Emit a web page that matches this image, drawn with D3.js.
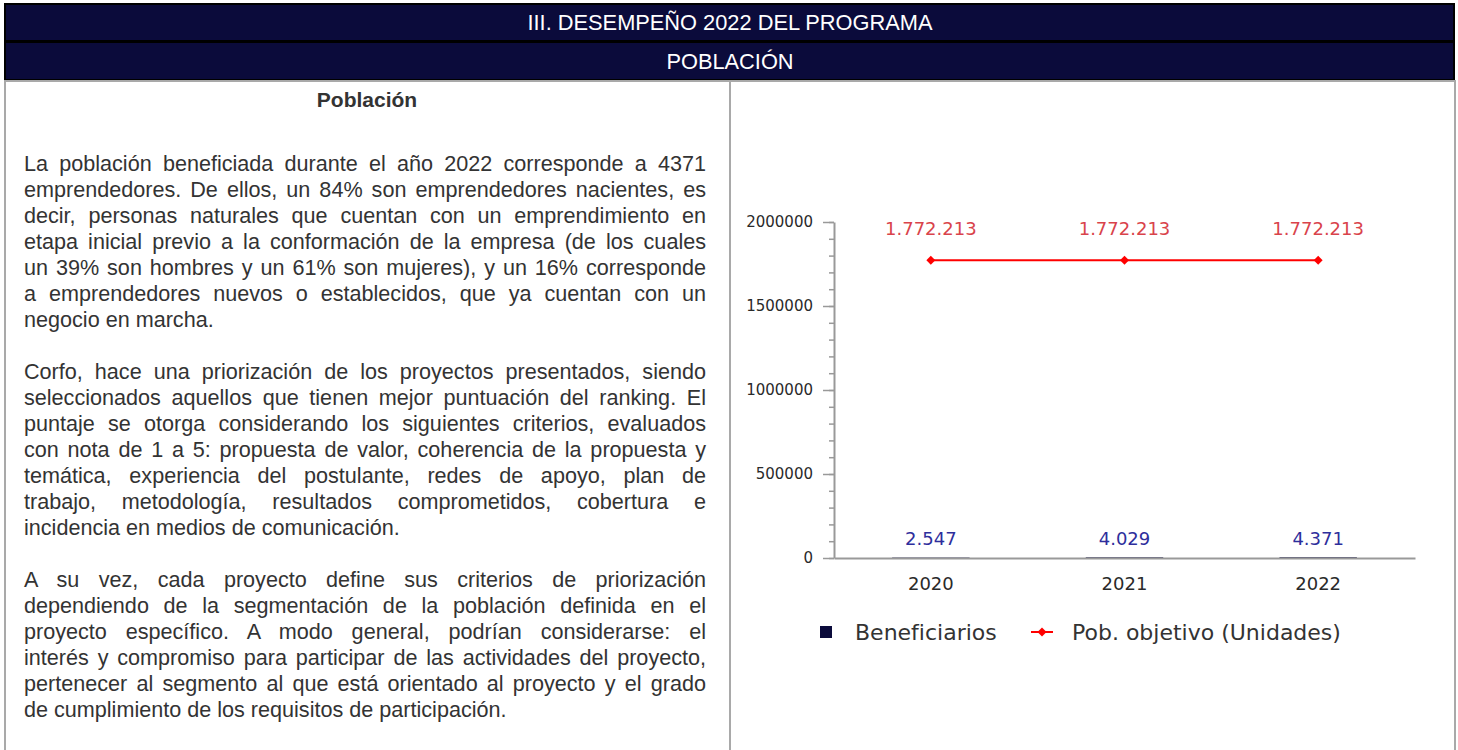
<!DOCTYPE html>
<html lang="es">
<head>
<meta charset="UTF-8">
<title>Población</title>
<script src="https://cdn.jsdelivr.net/npm/d3@7"></script>
<style>
  body { margin: 0; background: #fff; }
  #page { position: relative; width: 1458px; height: 750px; overflow: hidden; font-family: "Liberation Sans", Arial, sans-serif; }
  #page svg { position: absolute; left: 0; top: 0; }
  .titulo { position: absolute; left: 4px; width: 726px; top: 87px; text-align: center; font-weight: bold; font-size: 21px; color: #333; line-height: 26px; }
  .texto { position: absolute; left: 24px; width: 682px; top: 151px; font-size: 21.6px; color: #333; line-height: 26px; }
  .texto p { margin: 0 0 26px 0; }
  .texto .ln { white-space: nowrap; text-align: justify; text-align-last: justify; }
  .texto .ln.fin { text-align-last: left; }
</style>
</head>
<body>
<div id="page"></div>
<script>
// datos
const anios = ['2020', '2021', '2022'];
const beneficiarios = [2547, 4029, 4371];
const pobObjetivo = [1772213, 1772213, 1772213];
const yTicks = [0, 500000, 1000000, 1500000, 2000000];
const encabezados = ['III. DESEMPEÑO 2022 DEL PROGRAMA', 'POBLACIÓN'];
const leyenda = ['Beneficiarios', 'Pob. objetivo (Unidades)'];

const parrafos = [
  ['La población beneficiada durante el año 2022 corresponde a 4371',
   'emprendedores. De ellos, un 84% son emprendedores nacientes, es',
   'decir, personas naturales que cuentan con un emprendimiento en',
   'etapa inicial previo a la conformación de la empresa (de los cuales',
   'un 39% son hombres y un 61% son mujeres), y un 16% corresponde',
   'a emprendedores nuevos o establecidos, que ya cuentan con un',
   'negocio en marcha.'],
  ['Corfo, hace una priorización de los proyectos presentados, siendo',
   'seleccionados aquellos que tienen mejor puntuación del ranking. El',
   'puntaje se otorga considerando los siguientes criterios, evaluados',
   'con nota de 1 a 5: propuesta de valor, coherencia de la propuesta y',
   'temática, experiencia del postulante, redes de apoyo, plan de',
   'trabajo, metodología, resultados comprometidos, cobertura e',
   'incidencia en medios de comunicación.'],
  ['A su vez, cada proyecto define sus criterios de priorización',
   'dependiendo de la segmentación de la población definida en el',
   'proyecto específico. A modo general, podrían considerarse: el',
   'interés y compromiso para participar de las actividades del proyecto,',
   'pertenecer al segmento al que está orientado al proyecto y el grado',
   'de cumplimiento de los requisitos de participación.']
];

const W = 1458, H = 750;
const navy = '#0b0b3b', gris = '#a9a9a9';
const page = d3.select('#page');
const svg = page.append('svg').attr('width', W).attr('height', H);

// encabezados
svg.append('rect').attr('x', 4).attr('y', 3).attr('width', 1451).attr('height', 77).attr('fill', '#000');
const filas = [{y: 5, h: 35}, {y: 43, h: 36}];
filas.forEach((f, i) => {
  svg.append('rect').attr('x', 6).attr('y', f.y).attr('width', 1447).attr('height', f.h).attr('fill', navy);
  svg.append('text').attr('x', 730).attr('y', f.y + f.h / 2).attr('dy', '0.36em')
    .attr('text-anchor', 'middle').attr('fill', '#fff')
    .style('font-family', '"Liberation Sans", Arial, sans-serif').style('font-size', '21.8px')
    .text(encabezados[i]);
});

// bordes de la tabla
const borde = svg.append('g').attr('stroke', gris).attr('stroke-width', 2);
borde.append('line').attr('x1', 4).attr('x2', 1456).attr('y1', 81).attr('y2', 81);
[5, 730, 1455].forEach(x => borde.append('line').attr('x1', x).attr('x2', x).attr('y1', 80).attr('y2', H));

// texto de la izquierda
page.append('div').attr('class', 'titulo').text('Población');
const txt = page.append('div').attr('class', 'texto');
parrafos.forEach(p => {
  const el = txt.append('p');
  p.forEach((l, i) => el.append('div').attr('class', 'ln' + (i == p.length - 1 ? ' fin' : '')).text(l));
});

// grafico
const x = d3.scaleBand().domain(anios).range([834, 1415]);
const y = d3.scaleLinear().domain([0, 2000000]).range([558, 222]);
const es = d3.formatLocale({decimal: ',', thousands: '.', grouping: [3], currency: ['$', '']});
const fmt = es.format(',d');
const fuente = '"DejaVu Sans", Verdana, sans-serif';

const g = svg.append('g');

// barras de beneficiarios (quedan casi planas por la escala)
g.selectAll('rect.bar').data(beneficiarios).enter().append('rect')
  .attr('class', 'bar')
  .attr('x', (d, i) => x(anios[i]) + x.bandwidth() * 0.3)
  .attr('width', x.bandwidth() * 0.4)
  .attr('y', d => y(d))
  .attr('height', d => y(0) - y(d))
  .attr('fill', navy);

// ticks menores
g.append('g').attr('transform', 'translate(834,0)')
  .call(d3.axisLeft(y).tickValues(d3.range(0, 2000001, 100000)).tickSize(5).tickFormat(''))
  .call(a => a.select('.domain').remove())
  .call(a => a.selectAll('line').attr('stroke', '#999').attr('stroke-width', 1.5));

// eje y
g.append('g').attr('transform', 'translate(834,0)')
  .call(d3.axisLeft(y).tickValues(yTicks).tickSize(11).tickSizeOuter(0).tickPadding(10).tickFormat(d3.format('d')))
  .call(a => a.select('.domain').attr('stroke', '#999').attr('stroke-width', 2))
  .call(a => a.selectAll('line').attr('stroke', '#999').attr('stroke-width', 1.5))
  .call(a => a.selectAll('text').attr('fill', '#2a2a2a').style('font-family', fuente).style('font-size', '15px'));

// eje x
g.append('g').attr('transform', 'translate(0,558)')
  .call(d3.axisBottom(x).tickSize(0).tickSizeOuter(0).tickPadding(19))
  .call(a => a.select('.domain').attr('stroke', '#999').attr('stroke-width', 2))
  .call(a => a.selectAll('text').attr('fill', '#2a2a2a').style('font-family', fuente).style('font-size', '18px'));

g.selectAll('text.vb').data(beneficiarios).enter().append('text')
  .attr('class', 'vb')
  .attr('x', (d, i) => x(anios[i]) + x.bandwidth() / 2)
  .attr('y', d => y(d) - 19).attr('dy', '0.35em')
  .attr('text-anchor', 'middle').attr('fill', '#2e2e9c')
  .style('font-family', fuente).style('font-size', '18px')
  .text(d => fmt(d));

// linea de poblacion objetivo
const linea = d3.line().x((d, i) => x(anios[i]) + x.bandwidth() / 2).y(d => y(d));
g.append('path').datum(pobObjetivo).attr('d', linea)
  .attr('fill', 'none').attr('stroke', '#ff0000').attr('stroke-width', 2);
const rombo = d3.symbol(d3.symbolSquare, 40);
g.selectAll('path.pt').data(pobObjetivo).enter().append('path')
  .attr('class', 'pt').attr('d', rombo)
  .attr('transform', (d, i) => `translate(${x(anios[i]) + x.bandwidth() / 2},${y(d)}) rotate(45)`)
  .attr('fill', '#ff0000');
g.selectAll('text.vp').data(pobObjetivo).enter().append('text')
  .attr('class', 'vp')
  .attr('x', (d, i) => x(anios[i]) + x.bandwidth() / 2)
  .attr('y', d => y(d) - 32).attr('dy', '0.35em')
  .attr('text-anchor', 'middle').attr('fill', '#d9434b')
  .style('font-family', fuente).style('font-size', '18px')
  .text(d => fmt(d));

// leyenda
const ley = svg.append('g').style('font-family', fuente).style('font-size', '22px').attr('fill', '#333');
ley.append('rect').attr('x', 820).attr('y', 626).attr('width', 12).attr('height', 12).attr('fill', navy);
ley.append('text').attr('x', 855).attr('y', 632).attr('dy', '0.35em').text(leyenda[0]);
ley.append('line').attr('x1', 1031).attr('x2', 1053).attr('y1', 632).attr('y2', 632).attr('stroke', '#ff0000').attr('stroke-width', 2);
ley.append('path').attr('d', rombo).attr('transform', 'translate(1042,632) rotate(45)').attr('fill', '#ff0000');
ley.append('text').attr('x', 1072).attr('y', 632).attr('dy', '0.35em').text(leyenda[1]);
</script>
</body>
</html>
